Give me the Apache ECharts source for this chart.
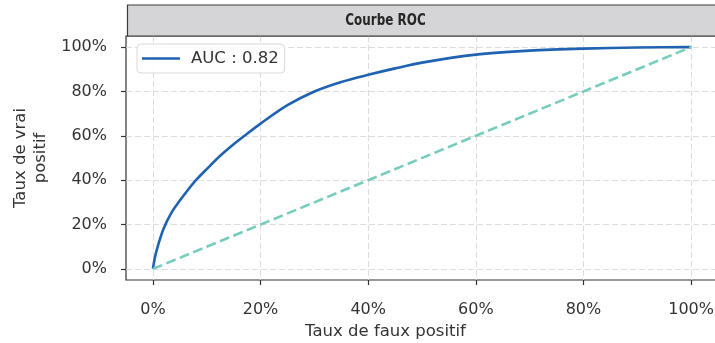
<!DOCTYPE html>
<html>
<head>
<meta charset="utf-8">
<script src="https://cdn.jsdelivr.net/npm/echarts@6.0.0/dist/echarts.min.js"></script>
<style>
  html, body { margin: 0; padding: 0; background: #ffffff; }
  #chart { width: 715px; height: 343px; }
</style>
</head>
<body>
<div id="chart"></div>
<script>
// ROC curve: false positive rate vs true positive rate
const fpr = [0, 0.004, 0.01, 0.02, 0.035, 0.05, 0.065, 0.08, 0.1, 0.125, 0.15, 0.17, 0.2, 0.25, 0.3, 0.35, 0.4, 0.45, 0.5, 0.6, 0.7, 0.8, 0.9, 1];
const tpr = [0, 0.055, 0.11, 0.182, 0.256, 0.308, 0.356, 0.40, 0.45, 0.51, 0.562, 0.60, 0.655, 0.738, 0.80, 0.843, 0.875, 0.904, 0.93, 0.966, 0.984, 0.993, 0.998, 1];

// chance diagonal
const diagX = [0, 1];
const diagY = [0, 1];

// shared tick positions for both axes
const tickValues = [0, 0.2, 0.4, 0.6, 0.8, 1];

const aucLabel = 'AUC : 0.82';
const titleText = 'Courbe ROC';
const xName = 'Taux de faux positif';
const yName = 'Taux de vrai\npositif';

const BLUE = '#1f62b2';
const TEAL = '#76cdbe';
const INK = '#333333';
const GRID = '#dcdcdc';

const pct = v => Math.round(v * 100) + '%';

function axisConf(isX) {
  return {
    type: 'value',
    min: -0.05,
    max: 1.05,
    axisLine: { show: false, onZero: false },
    axisTick: {
      show: true,
      customValues: tickValues,
      length: 5,
      lineStyle: { color: INK, width: 1.2 }
    },
    axisLabel: {
      customValues: tickValues,
      formatter: pct,
      margin: isX ? 22 : 19,
      fontSize: 16,
      color: INK,
      fontFamily: 'DejaVu Sans'
    },
    splitLine: {
      show: true,
      lineStyle: { color: GRID, width: 1, type: [6, 3] }
    },
    name: isX ? xName : yName,
    nameLocation: 'middle',
    nameGap: isX ? 38 : 72,
    nameTextStyle: isX
      ? { fontSize: 16.5, color: INK, fontFamily: 'DejaVu Sans', padding: [0, 73, 0, 0] }
      : { fontSize: 16.5, color: INK, fontFamily: 'DejaVu Sans', lineHeight: 20, align: 'center' }
  };
}

const chart = echarts.init(document.getElementById('chart'), null, { renderer: 'canvas' });

chart.setOption({
  animation: false,
  backgroundColor: '#ffffff',
  grid: {
    left: 126,
    top: 36,
    width: 592,
    height: 244,
    outerBoundsMode: 'none',
    containLabel: false,
    show: true,
    borderColor: INK,
    borderWidth: 1.2,
    backgroundColor: 'transparent'
  },
  xAxis: axisConf(true),
  yAxis: axisConf(false),
  legend: {
    data: [aucLabel],
    left: 137,
    top: 44,
    backgroundColor: 'rgba(255,255,255,0.85)',
    borderColor: '#d9d9d9',
    borderWidth: 1,
    borderRadius: 4,
    padding: [6, 6, 6, 5],
    itemWidth: 38,
    itemHeight: 2.6,
    icon: 'rect',
    textStyle: {
      fontSize: 16.5,
      color: INK,
      fontFamily: 'DejaVu Sans',
      padding: [0, 0, 0, 6]
    }
  },
  graphic: [
    {
      type: 'rect',
      z: 10,
      shape: { x: 127.5, y: 5, width: 600, height: 31 },
      style: { fill: '#d5d5d8', stroke: '#3a3a3a', lineWidth: 1.2 }
    },
    {
      type: 'text',
      z: 11,
      x: 385.5,
      y: 20.5,
      scaleX: 0.83,
      style: {
        text: titleText,
        align: 'center',
        verticalAlign: 'middle',
        fontFamily: '"DejaVu Sans Condensed", "DejaVu Sans", sans-serif',
        fontWeight: 'bold',
        fontSize: 16,
        fill: '#262626'
      }
    }
  ],
  series: [
    {
      type: 'line',
      name: aucLabel,
      data: fpr.map((x, i) => [x, tpr[i]]),
      showSymbol: false,
      smooth: 0.3,
      color: BLUE,
      lineStyle: { color: BLUE, width: 2.6 },
      itemStyle: { color: BLUE },
      z: 3
    },
    {
      type: 'line',
      name: 'diagonale',
      data: diagX.map((x, i) => [x, diagY[i]]),
      showSymbol: false,
      color: TEAL,
      lineStyle: { color: TEAL, width: 2.6, type: [10, 4.5] },
      itemStyle: { color: TEAL },
      z: 4
    }
  ]
});
</script>
</body>
</html>
